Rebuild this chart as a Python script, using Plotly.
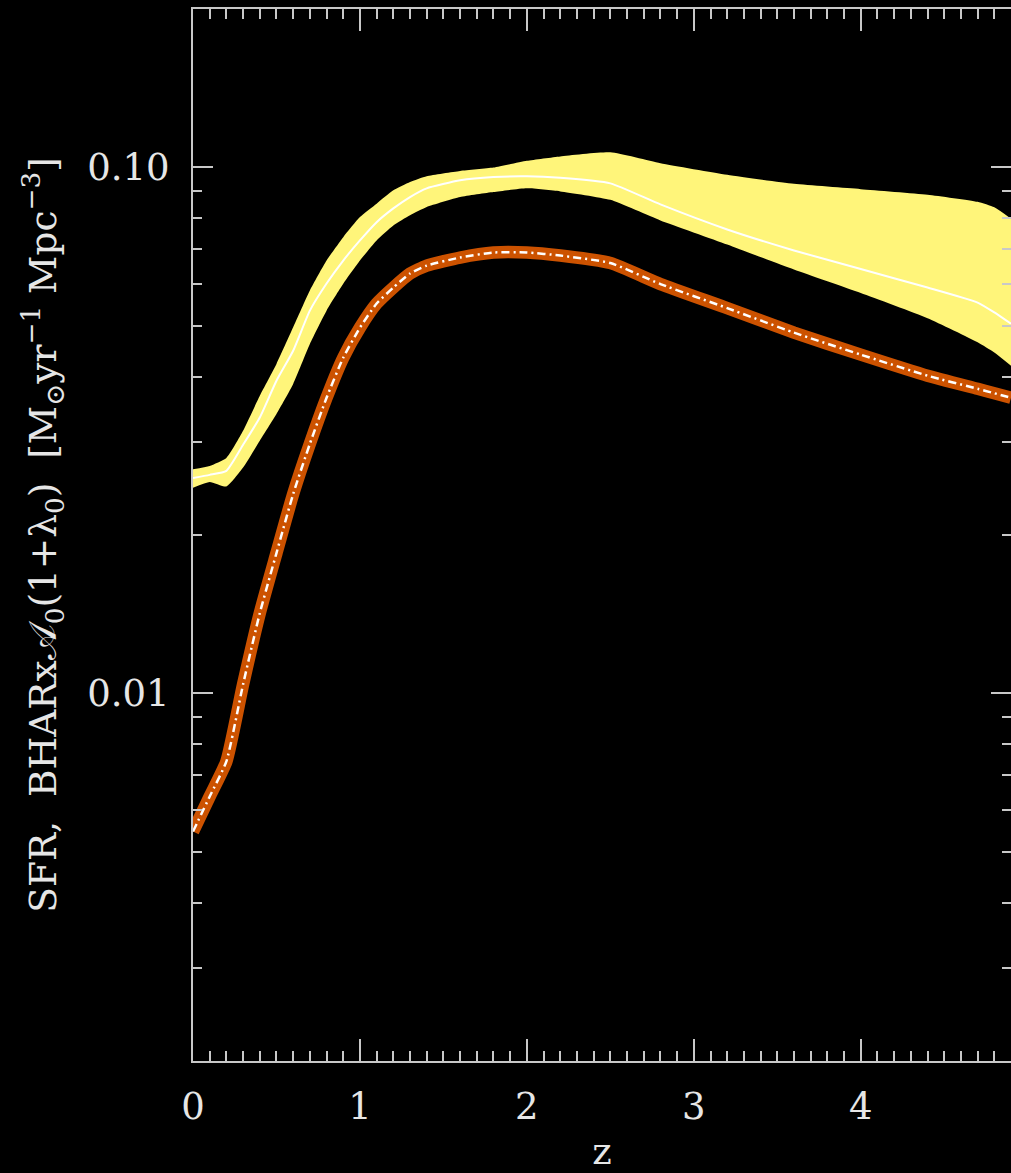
import plotly.graph_objects as go

# Redshift grid
z = [0, 0.1, 0.2, 0.3, 0.4, 0.5, 0.6, 0.7, 0.8, 0.9, 1.0, 1.1, 1.2, 1.3, 1.4,
     1.6, 1.8, 2.0, 2.2, 2.5, 2.8, 3.2, 3.6, 4.0, 4.4, 4.7, 4.8, 4.9]

# SFR density: central curve and uncertainty band
sfr_mid = [0.02567, 0.02602, 0.02648, 0.02968, 0.03345, 0.03929, 0.04481, 0.05340,
           0.06012, 0.06650, 0.07261, 0.07865, 0.08354, 0.08780, 0.09120, 0.09446,
           0.09583, 0.09613, 0.09550, 0.09322, 0.08501, 0.07618, 0.06949, 0.06406,
           0.05908, 0.05532, 0.05298, 0.05041]
sfr_hi = [0.02667, 0.02706, 0.02802, 0.03155, 0.03678, 0.04228, 0.04963, 0.05832,
          0.06650, 0.07366, 0.08043, 0.08528, 0.09041, 0.09375, 0.09613, 0.09840,
          0.09987, 0.1029, 0.1049, 0.1068, 0.1018, 0.09676, 0.09302, 0.09089,
          0.08872, 0.08597, 0.08392, 0.07986]
sfr_lo = [0.02460, 0.02523, 0.02473, 0.02686, 0.03020, 0.03395, 0.03873, 0.04614,
          0.05340, 0.06005, 0.06650, 0.07261, 0.07752, 0.08104, 0.08403, 0.08780,
          0.08974, 0.09120, 0.09000, 0.08673, 0.07925, 0.07133, 0.06392, 0.05768,
          0.05166, 0.04651, 0.04447, 0.04196]

# BHAR x A0 (1+lambda0)
bhar = [0.005460, 0.006366, 0.007423, 0.01040, 0.01420, 0.01848, 0.02393, 0.02981,
        0.03646, 0.04346, 0.04957, 0.05508, 0.05908, 0.06283, 0.06505, 0.06738,
        0.06887, 0.06887, 0.06797, 0.06577, 0.05999, 0.05400, 0.04849, 0.04404,
        0.04016, 0.03793, 0.03720, 0.03646]

YELLOW = "#FFF57A"
ORANGE = "#CC5200"
FG = "#E6E6E6"
AX = "#C8C8C8"
FONT = "DejaVu Serif"
SM = 0.5

fig = go.Figure()
fig.add_trace(go.Scatter(x=z, y=sfr_lo, mode="lines",
                         line=dict(width=0, color=YELLOW, shape="spline", smoothing=SM),
                         showlegend=False, hoverinfo="skip"))
fig.add_trace(go.Scatter(x=z, y=sfr_hi, mode="lines",
                         line=dict(width=0, color=YELLOW, shape="spline", smoothing=SM),
                         fill="tonexty", fillcolor=YELLOW, showlegend=False))
fig.add_trace(go.Scatter(x=z, y=sfr_mid, mode="lines",
                         line=dict(width=2, color="white", shape="spline", smoothing=SM),
                         showlegend=False))
fig.add_trace(go.Scatter(x=z, y=bhar, mode="lines",
                         line=dict(width=12.5, color=ORANGE, shape="spline", smoothing=SM),
                         showlegend=False))
fig.add_trace(go.Scatter(x=z, y=bhar, mode="lines",
                         line=dict(width=2.5, color="white", dash="8px,4px,2px,4px",
                                   shape="spline", smoothing=SM),
                         showlegend=False))

fig.update_layout(
    width=1011, height=1173,
    margin=dict(l=193, r=0, t=9, b=112, autoexpand=False),
    paper_bgcolor="black", plot_bgcolor="black",
    font=dict(family=FONT, color=FG, size=37),
)

fig.update_xaxes(
    range=[0, 4.9], showgrid=False, zeroline=False, automargin=False,
    showline=True, linecolor=AX, linewidth=2, mirror="allticks",
    ticks="inside", ticklen=22, tickwidth=1.5, tickcolor=AX,
    tickmode="linear", tick0=0, dtick=1,
    minor=dict(ticks="inside", ticklen=10, tickwidth=1.5, tickcolor=AX, dtick=0.1, showgrid=False),
    tickfont=dict(family=FONT, size=37, color=FG),
    ticklabelstandoff=12,
    title=dict(text="z", font=dict(family=FONT, size=37, color=FG), standoff=38),
)

fig.update_yaxes(
    type="log", range=[-2.699, -0.699], showgrid=False, zeroline=False, automargin=False,
    showline=True, linecolor=AX, linewidth=2, mirror="allticks",
    ticks="inside", ticklen=20, tickwidth=1.5, tickcolor=AX,
    tickmode="linear", tick0=0, dtick=1, tickformat=".2f",
    minor=dict(ticks="inside", ticklen=9, tickwidth=1.5, tickcolor=AX, dtick="D1", showgrid=False),
    tickfont=dict(family=FONT, size=37, color=FG),
    ticklabelstandoff=14,
    title=dict(text="SFR,  BHARx𝒜<sub>0</sub>(1+λ<sub>0</sub>)  [M<sub>⊙</sub>yr<sup>−1</sup> Mpc<sup>−3</sup>]",
               font=dict(family=FONT, size=37.5, color=FG), standoff=19),
)

fig.write_html("out.html")
